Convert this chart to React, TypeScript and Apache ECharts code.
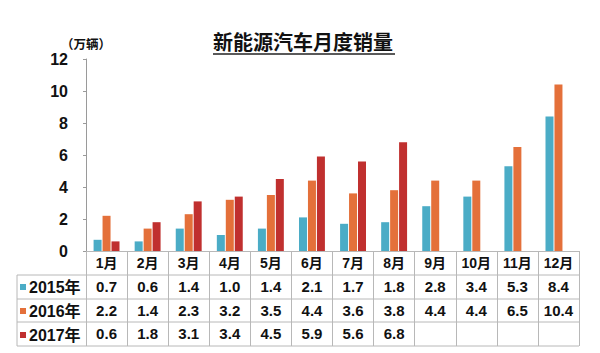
import React, { useEffect, useRef } from "react";
import * as echarts from "echarts";

const months = ["1月", "2月", "3月", "4月", "5月", "6月", "7月", "8月", "9月", "10月", "11月", "12月"];
const seriesNames = ["2015年", "2016年", "2017年"];
const sales2015 = [0.7, 0.6, 1.4, 1.0, 1.4, 2.1, 1.7, 1.8, 2.8, 3.4, 5.3, 8.4];
const sales2016 = [2.2, 1.4, 2.3, 3.2, 3.5, 4.4, 3.6, 3.8, 4.4, 4.4, 6.5, 10.4];
const sales2017: (number | null)[] = [0.6, 1.8, 3.1, 3.4, 4.5, 5.9, 5.6, 6.8, null, null, null, null];
const colors = ["#4BACC6", "#E4703A", "#C0302F"];
const title = "新能源汽车月度销量";
const unit = "（万辆）";

const FONT = '"Liberation Sans", Arial, "Noto Sans CJK SC", sans-serif';

export default function App() {
  const ref = useRef<HTMLDivElement>(null);
  useEffect(() => {
    if (!ref.current) return;
    const chart = echarts.init(ref.current, null, { renderer: "svg" });
    const W = 600, H = 353;
    const gridLeft = 86, gridRight = 21, gridTop = 59, gridBottom = 102;
    const axisY = H - gridBottom; // 251
    const rowLines = [275, 299, 322, 346];
    const tableLeft = 17;
    const tableRight = W - gridRight;
    const border = "#b8b8b8";
    const fmt = (v: number | null) => (v == null ? "" : v.toFixed(1));
    const rows = [sales2015, sales2016, sales2017];
    const rowCenters = [287, 310.5, 334];

    const rowAxes = rows.map((r, i) => ({
      type: "category",
      gridIndex: 0,
      position: "bottom",
      data: r.map(fmt),
      axisLine: { show: false },
      axisTick: { show: false },
      splitLine: { show: false },
      axisLabel: {
        interval: 0,
        margin: rowCenters[i] - axisY - 8,
        fontSize: 15,
        fontWeight: "bold",
        color: "#111",
        fontFamily: FONT,
      },
    }));

    const graphics: any[] = [
      {
        type: "line",
        shape: { x1: 213, y1: 54, x2: 395, y2: 54 },
        style: { stroke: "#222", lineWidth: 1.5 },
      },
      {
        type: "line",
        shape: { x1: tableLeft, y1: rowLines[0], x2: tableLeft, y2: rowLines[3] },
        style: { stroke: border, lineWidth: 1 },
      },
      ...rowLines.map((y) => ({
        type: "line",
        shape: { x1: tableLeft, y1: y, x2: tableRight, y2: y },
        style: { stroke: border, lineWidth: 1 },
      })),
    ];

    chart.setOption({
      animation: false,
      textStyle: { fontFamily: FONT },
      title: {
        text: title,
        left: 213,
        top: 33,
        padding: 0,
        textStyle: { fontSize: 20, fontWeight: "bold", color: "#111", fontFamily: FONT },
      },
      legend: {
        orient: "vertical",
        left: 20,
        top: 279,
        padding: 0,
        itemWidth: 6,
        itemHeight: 6,
        itemGap: 8,
        icon: "rect",
        data: seriesNames,
        textStyle: { fontSize: 16, fontWeight: "bold", color: "#111", fontFamily: FONT, padding: [0, 0, 0, -2] },
      },
      grid: { left: gridLeft, right: gridRight, top: gridTop, bottom: gridBottom },
      xAxis: [
        {
          type: "category",
          data: months,
          axisLine: { show: true, lineStyle: { color: border } },
          axisTick: {
            show: true,
            interval: 0,
            length: rowLines[3] - axisY,
            lineStyle: { color: border },
          },
          axisLabel: {
            interval: 0,
            margin: 5,
            fontSize: 14,
            fontWeight: "bold",
            color: "#111",
            fontFamily: FONT,
          },
        },
        ...rowAxes,
      ],
      yAxis: {
        type: "value",
        min: 0,
        max: 12,
        interval: 2,
        name: unit,
        nameLocation: "end",
        nameGap: 9,
        nameTextStyle: {
          fontSize: 12.5,
          lineHeight: 13,
          fontWeight: "bold",
          color: "#111",
          fontFamily: "Noto Sans CJK SC",
          align: "center",
        },
        axisLine: { show: true, lineStyle: { color: "#9a9a9a" } },
        axisTick: { show: true, length: 3, lineStyle: { color: "#9a9a9a" } },
        splitLine: { show: false },
        axisLabel: { margin: 18, fontSize: 16, fontWeight: "bold", color: "#111", fontFamily: FONT },
      },
      series: rows.map((r, i) => ({
        name: seriesNames[i],
        type: "bar",
        data: r,
        barWidth: 8,
        barGap: "12%",
        itemStyle: { color: colors[i] },
      })),
      graphic: graphics,
    });
    return () => chart.dispose();
  }, []);
  return <div ref={ref} style={{ width: 600, height: 353, position: "absolute", left: 0, top: 0 }} />;
}
